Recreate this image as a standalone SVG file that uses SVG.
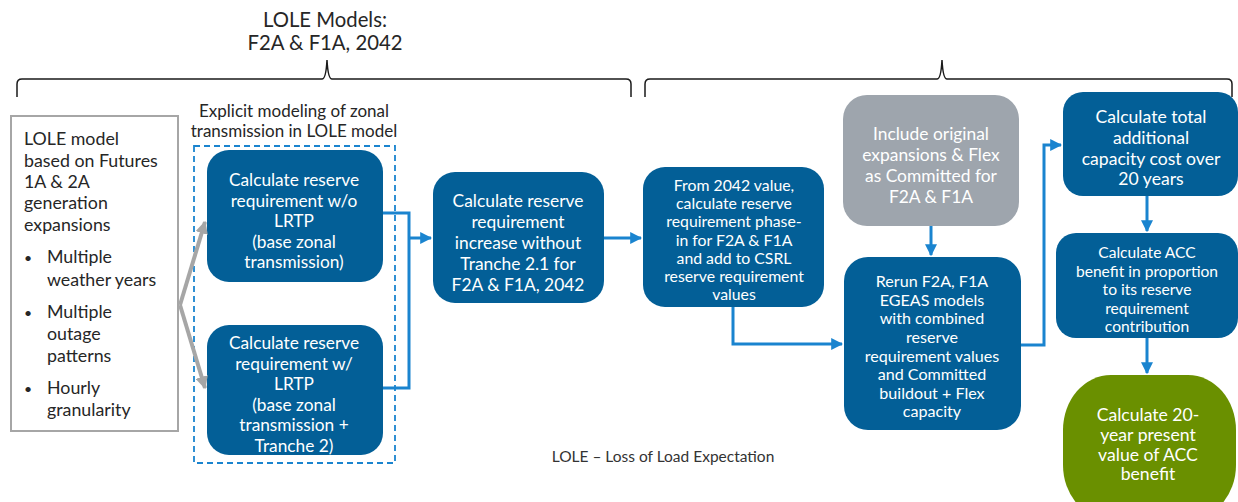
<svg xmlns="http://www.w3.org/2000/svg" width="1238" height="502" viewBox="0 0 1238 502">
<defs>
<style>
.t{font-family:Lato,"Open Sans","Liberation Sans",sans-serif;}
.w{fill:#ffffff;text-anchor:middle;}
.k{fill:#262626;}
.b{fill:#035f97;}
.br{fill:none;stroke:#1a1a1a;stroke-width:1.5;}
.c{fill:none;stroke:#1a84cf;stroke-width:3;}
.g{fill:none;stroke:#a6a6a6;stroke-width:4;}
</style>
<marker id="ab" viewBox="0 0 10 10" refX="9" refY="5" markerWidth="4" markerHeight="4" orient="auto" markerUnits="strokeWidth"><path d="M0,0 L10,5 L0,10 z" fill="#1a84cf"/></marker>
<marker id="ag" viewBox="0 0 10 10" refX="9" refY="5" markerWidth="3.2" markerHeight="3.2" orient="auto" markerUnits="strokeWidth"><path d="M0,0 L10,5 L0,10 z" fill="#a6a6a6"/></marker>
</defs>
<rect width="1238" height="502" fill="#ffffff"/>

<g id="title" class="t k" font-size="20.3" text-anchor="middle">
<text x="325" y="27">LOLE Models:</text>
<text x="325" y="50">F2A &amp; F1A, 2042</text>
</g>

<g id="braces">
<path class="br" d="M17,97 L17,84 Q17,79 22,79 L322,79 Q326,79 327,60 Q328,79 332,79 L626,79 Q631,79 631,84 L631,97"/>
<path class="br" d="M645,97 L645,84 Q645,79 650,79 L937,79 Q941,79 942,60 Q943,79 947,79 L1227,79 Q1232,79 1232,84 L1232,97"/>
</g>

<g id="lole-box" class="t k" font-size="17.8">
<rect x="11" y="116" width="167" height="315" fill="#ffffff" stroke="#a6a6a6" stroke-width="2"/>
<text x="24" y="145">LOLE model</text>
<text x="24" y="167">based on Futures</text>
<text x="24" y="188">1A &amp; 2A</text>
<text x="24" y="209">generation</text>
<text x="24" y="231">expansions</text>
<text x="24" y="263" font-size="14">•</text><text x="47" y="263">Multiple</text>
<text x="47" y="286">weather years</text>
<text x="24" y="318" font-size="14">•</text><text x="47" y="318">Multiple</text>
<text x="47" y="340">outage</text>
<text x="47" y="362">patterns</text>
<text x="24" y="394" font-size="14">•</text><text x="47" y="394">Hourly</text>
<text x="47" y="416">granularity</text>
</g>

<g id="explicit-group">
<text class="t k" font-size="17" text-anchor="middle" x="294" y="117">Explicit modeling of zonal</text>
<text class="t k" font-size="17" text-anchor="middle" x="294" y="137">transmission in LOLE model</text>
<rect x="194" y="146" width="201" height="317" fill="none" stroke="#1a84cf" stroke-width="1.8" stroke-dasharray="6,4"/>
</g>

<g id="box-a">
<rect class="b" x="207" y="150" width="176" height="132" rx="22"/>
<g class="t w" font-size="17.3">
<text x="294" y="186">Calculate reserve</text>
<text x="294" y="206.5">requirement w/o</text>
<text x="294" y="227">LRTP</text>
<text x="294" y="247.5">(base zonal</text>
<text x="294" y="268">transmission)</text>
</g>
</g>

<g id="box-b">
<rect class="b" x="207" y="325" width="176" height="130" rx="22"/>
<g class="t w" font-size="17.3">
<text x="294" y="349">Calculate reserve</text>
<text x="294" y="369.5">requirement w/</text>
<text x="294" y="390">LRTP</text>
<text x="294" y="410.5">(base zonal</text>
<text x="294" y="431">transmission +</text>
<text x="294" y="451.5">Tranche 2)</text>
</g>
</g>

<g id="box-c">
<rect class="b" x="433" y="172" width="171" height="131" rx="22"/>
<g class="t w" font-size="17.4">
<text x="518" y="207">Calculate reserve</text>
<text x="518" y="228">requirement</text>
<text x="518" y="249">increase without</text>
<text x="518" y="270">Tranche 2.1 for</text>
<text x="518" y="291">F2A &amp; F1A, 2042</text>
</g>
</g>

<g id="box-d">
<rect class="b" x="643" y="167" width="181" height="140" rx="22"/>
<g class="t w" font-size="15.8">
<text x="734" y="191">From 2042 value,</text>
<text x="734" y="209">calculate reserve</text>
<text x="734" y="227">requirement phase-</text>
<text x="734" y="245.5">in for F2A &amp; F1A</text>
<text x="734" y="264">and add to CSRL</text>
<text x="734" y="282">reserve requirement</text>
<text x="734" y="300">values</text>
</g>
</g>

<g id="box-f">
<rect x="843" y="95" width="176" height="131" rx="24" fill="#9ea5ad"/>
<g class="t w" font-size="17.4">
<text x="931" y="140">Include original</text>
<text x="931" y="161">expansions &amp; Flex</text>
<text x="931" y="182">as Committed for</text>
<text x="931" y="203">F2A &amp; F1A</text>
</g>
</g>

<g id="box-e">
<rect class="b" x="844" y="257" width="177" height="173" rx="24"/>
<g class="t w" font-size="16.1">
<text x="932" y="287">Rerun F2A, F1A</text>
<text x="932" y="305.5">EGEAS models</text>
<text x="932" y="324">with combined</text>
<text x="932" y="343">reserve</text>
<text x="932" y="361.5">requirement values</text>
<text x="932" y="380">and Committed</text>
<text x="932" y="398.5">buildout + Flex</text>
<text x="932" y="417">capacity</text>
</g>
</g>

<g id="box-g">
<rect class="b" x="1063" y="92" width="175" height="104" rx="20"/>
<g class="t w" font-size="17.6">
<text x="1151" y="123">Calculate total</text>
<text x="1151" y="144">additional</text>
<text x="1151" y="165">capacity cost over</text>
<text x="1151" y="185">20 years</text>
</g>
</g>

<g id="box-h">
<rect class="b" x="1056" y="233" width="182" height="105" rx="20"/>
<g class="t w" font-size="15.6">
<text x="1147" y="258">Calculate ACC</text>
<text x="1147" y="277">benefit in proportion</text>
<text x="1147" y="295">to its reserve</text>
<text x="1147" y="313.5">requirement</text>
<text x="1147" y="332">contribution</text>
</g>
</g>

<g id="box-i">
<rect x="1063" y="375" width="173" height="145" rx="48" ry="55" fill="#6a9000"/>
<g class="t w" font-size="17.6">
<text x="1148" y="421">Calculate 20-</text>
<text x="1148" y="441">year present</text>
<text x="1148" y="460.5">value of ACC</text>
<text x="1148" y="480">benefit</text>
</g>
</g>

<g id="connectors">
<path class="g" d="M180,305 L205,222" marker-end="url(#ag)"/>
<path class="g" d="M180,305 L205,388" marker-end="url(#ag)"/>
<path class="c" d="M383,213 L409,213 L409,388 L383,388"/>
<path class="c" d="M409,238 L431,238" marker-end="url(#ab)"/>
<path class="c" d="M604,238 L641,238" marker-end="url(#ab)"/>
<path class="c" d="M733,307 L733,344 L842,344" marker-end="url(#ab)"/>
<path class="c" d="M931,226 L931,255" marker-end="url(#ab)"/>
<path class="c" d="M1021,345 L1044,345 L1044,145 L1061,145" marker-end="url(#ab)"/>
<path class="c" d="M1147,196 L1147,231" marker-end="url(#ab)"/>
<path class="c" d="M1147,338 L1147,373" marker-end="url(#ab)"/>
</g>

<g id="footnote">
<text class="t" font-size="15.5" fill="#333333" text-anchor="middle" x="663" y="462">LOLE – Loss of Load Expectation</text>
</g>
</svg>
